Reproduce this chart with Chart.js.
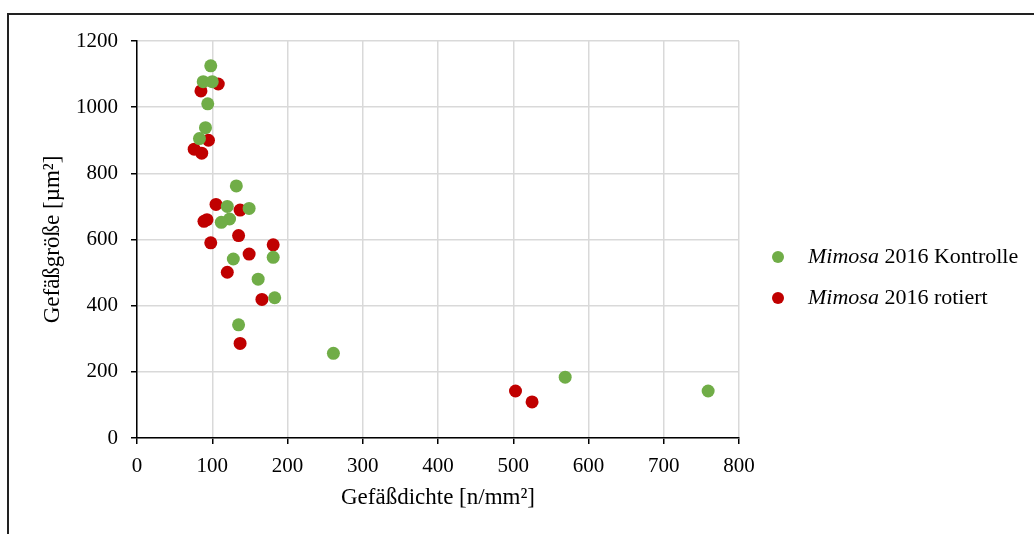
<!DOCTYPE html>
<html>
<head>
<meta charset="utf-8">
<script src="https://cdn.jsdelivr.net/npm/chart.js@4"></script>
<style>
  body { margin: 0; background: #fff; }
  .wrap { position: relative; width: 1034px; height: 534px; }
</style>
</head>
<body>
<div class="wrap"><canvas class="scatter-chart"></canvas></div>
<script>
var canvasElement = document.querySelector(".scatter-chart")

// Gefäßdichte (x) und Gefäßgröße (y)
var kontrolleX = [98, 88, 100, 94, 91, 83, 132, 120, 149, 123, 112, 128, 181, 161, 183, 135, 261, 569, 759]
var kontrolleY = [1125, 1077, 1077, 1010, 938, 905, 762, 700, 694, 662, 652, 541, 546, 480, 424, 342, 256, 184, 142]
var rotiertX = [108, 85, 95, 76, 86, 105, 137, 89, 93, 135, 98, 181, 149, 120, 166, 137, 503, 525]
var rotiertY = [1070, 1049, 900, 873, 861, 706, 689, 655, 660, 612, 590, 584, 556, 501, 419, 286, 142, 109]

var seriesNames = ["2016 Kontrolle", "2016 rotiert"]
var colors = ["#70ad47", "#c00000"]
var xTicks = [0, 100, 200, 300, 400, 500, 600, 700, 800]
var yTicks = [0, 200, 400, 600, 800, 1000, 1200]

var fontFamily = "'Liberation Serif', 'Times New Roman', serif"

let toPoints = (xs, ys) => xs.map((x, i) => ({ x: x, y: ys[i] }))

// Rahmen links/oben wie im Original
var framePlugin = {
  id: "frame",
  beforeDraw: (chart) => {
    var ctx = chart.ctx
    ctx.save()
    ctx.strokeStyle = "#222"
    ctx.lineWidth = 2
    ctx.beginPath()
    ctx.moveTo(8, chart.height)
    ctx.lineTo(8, 14)
    ctx.lineTo(chart.width, 14)
    ctx.stroke()
    ctx.restore()
  }
}

// Legende mit kursivem Gattungsnamen
var legendPlugin = {
  id: "mimosaLegend",
  afterDraw: (chart) => {
    var ctx = chart.ctx
    var area = chart.chartArea
    ctx.save()
    chart.data.datasets.forEach((ds, i) => {
      var y = 257 + i * 41
      var x = area.right + 39
      ctx.fillStyle = ds.backgroundColor
      ctx.beginPath()
      ctx.arc(x, y, 6, 0, Math.PI * 2)
      ctx.fill()
      ctx.fillStyle = "#000"
      ctx.textBaseline = "middle"
      ctx.font = "italic 22px " + fontFamily
      ctx.fillText("Mimosa", x + 30, y)
      var w = ctx.measureText("Mimosa ").width
      ctx.font = "22px " + fontFamily
      ctx.fillText(seriesNames[i], x + 30 + w, y)
    })
    ctx.restore()
  }
}

let generateChart = () => {
  var config = {
    type: "scatter",
    data: {
      datasets: [
        {
          label: "Mimosa " + seriesNames[0],
          data: toPoints(kontrolleX, kontrolleY),
          backgroundColor: colors[0],
          borderWidth: 0,
          pointRadius: 6.5,
        },
        {
          label: "Mimosa " + seriesNames[1],
          data: toPoints(rotiertX, rotiertY),
          backgroundColor: colors[1],
          borderWidth: 0,
          pointRadius: 6.5,
        }
      ]
    },
    options: {
      responsive: true,
      maintainAspectRatio: false,
      animation: false,
      layout: { padding: { top: 41, right: 295, left: 0, bottom: 0 } },
      scales: {
        x: {
          type: "linear",
          min: 0,
          max: 800,
          afterBuildTicks: (scale) => { scale.ticks = xTicks.map(v => ({ value: v })) },
          afterFit: (scale) => { scale.height = 96 },
          grid: { color: "#d9d9d9", lineWidth: 1.5, tickColor: "#000", tickLength: 6 },
          border: { color: "#000", width: 1.5 },
          ticks: {
            color: "#000",
            padding: 10,
            font: { family: fontFamily, size: 21 },
            callback: (v) => String(v)
          },
          title: {
            display: true,
            text: "Gefäßdichte [n/mm²]",
            color: "#000",
            font: { family: fontFamily, size: 23 },
            padding: { top: 0, bottom: 22 }
          }
        },
        y: {
          min: 0,
          max: 1200,
          afterBuildTicks: (scale) => { scale.ticks = yTicks.map(v => ({ value: v })) },
          afterFit: (scale) => { scale.width = 137 },
          grid: { color: "#d9d9d9", lineWidth: 1.5, tickColor: "#000", tickLength: 6 },
          border: { color: "#000", width: 1.5 },
          ticks: {
            color: "#000",
            padding: 13,
            font: { family: fontFamily, size: 21 },
            callback: (v) => String(v)
          },
          title: {
            display: true,
            text: "Gefäßgröße [µm²]",
            color: "#000",
            font: { family: fontFamily, size: 23 },
            padding: { top: 39, bottom: 0 }
          }
        }
      },
      plugins: {
        legend: { display: false },
        tooltip: { enabled: false }
      }
    },
    plugins: [framePlugin, legendPlugin]
  }
  var chart = new Chart(canvasElement, config)
}
generateChart()
</script>
</body>
</html>
